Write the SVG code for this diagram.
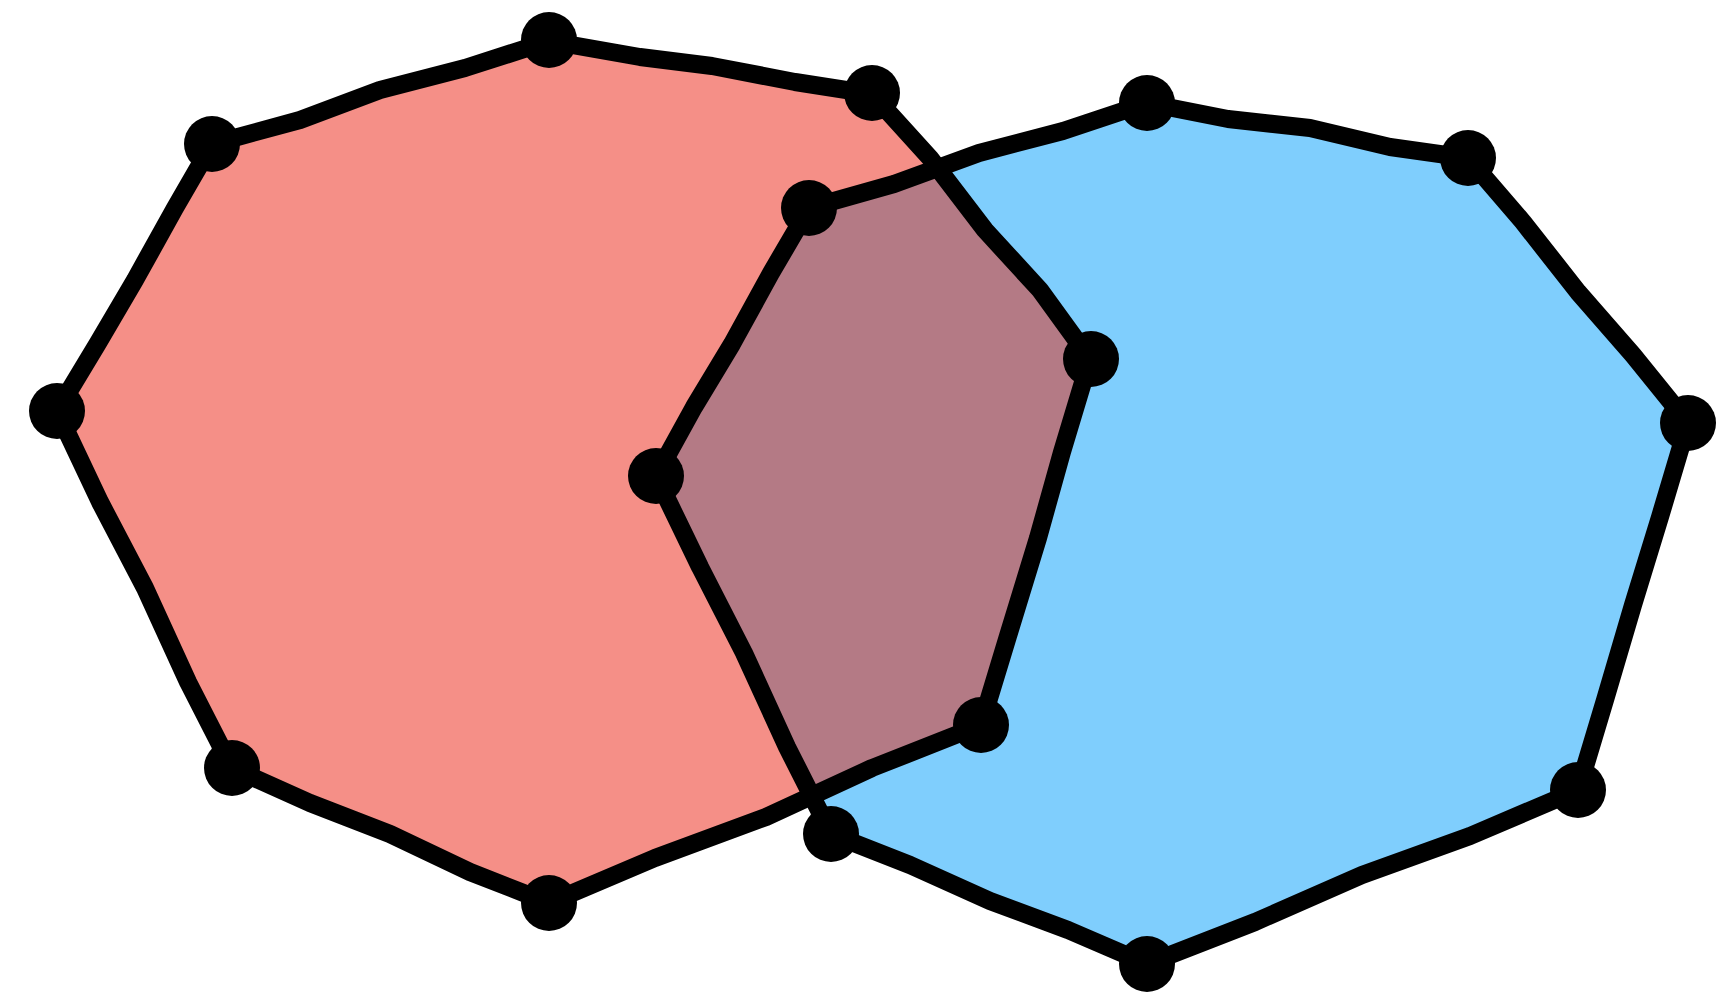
<svg xmlns="http://www.w3.org/2000/svg" width="1722" height="998" viewBox="0 0 1722 998">
<style>
.edge{fill:none;stroke:#000;stroke-width:18;stroke-linecap:round;stroke-linejoin:round}
.v{fill:#000}
</style>
<defs>
<path id="redP" d="M549,41 L640,57 L712,66 L795,82 L872,94 L930,158 L985,230 L1040,290 L1090,359 L1062,452 L1038,538 L1008,636 L981,725 L872,768 L766,817 L655,858 L549,903 L470,872 L390,834 L310,803 L232,768 L188,682 L145,588 L100,502 L57,411 L98,343 L135,280 L175,208 L212,144 L300,120 L380,90 L465,68 Z"/>
<path id="blueP" d="M1147,103 L1228,119 L1310,128 L1390,147 L1468,158 L1523,222 L1578,292 L1633,355 L1688,423 L1660,517 L1633,605 L1605,700 L1578,790 L1470,836 L1362,875 L1255,922 L1147,964 L1068,930 L990,901 L910,865 L831,834 L787,747 L744,653 L700,567 L656,476 L694,407 L732,344 L771,273 L809,208 L894,184 L979,153 L1063,131 Z"/>
<clipPath id="blueClip"><use href="#blueP"/></clipPath>
</defs>
<rect width="1722" height="998" fill="#fff"/>
<g id="fills">
<use href="#blueP" fill="#7FCEFD"/>
<use href="#redP" fill="#F58F87"/>
<use href="#redP" fill="#B47A85" clip-path="url(#blueClip)"/>
</g>
<g id="connectors">
<use href="#redP" class="edge"/>
<use href="#blueP" class="edge"/>
</g>
<g id="r1"><circle class="v" cx="549" cy="40" r="28"/></g>
<g id="r2"><circle class="v" cx="872" cy="93" r="28"/></g>
<g id="r3"><circle class="v" cx="1091" cy="359" r="28"/></g>
<g id="r4"><circle class="v" cx="981" cy="725" r="28"/></g>
<g id="r5"><circle class="v" cx="549" cy="903" r="28"/></g>
<g id="r6"><circle class="v" cx="232" cy="768" r="28"/></g>
<g id="r7"><circle class="v" cx="57" cy="411" r="28"/></g>
<g id="r8"><circle class="v" cx="212" cy="144" r="28"/></g>
<g id="b1"><circle class="v" cx="1147" cy="103" r="28"/></g>
<g id="b2"><circle class="v" cx="1468" cy="158" r="28"/></g>
<g id="b3"><circle class="v" cx="1688" cy="423" r="28"/></g>
<g id="b4"><circle class="v" cx="1578" cy="790" r="28"/></g>
<g id="b5"><circle class="v" cx="1147" cy="964" r="28"/></g>
<g id="b6"><circle class="v" cx="831" cy="834" r="28"/></g>
<g id="b7"><circle class="v" cx="656" cy="476" r="28"/></g>
<g id="b8"><circle class="v" cx="809" cy="208" r="28"/></g>
</svg>
